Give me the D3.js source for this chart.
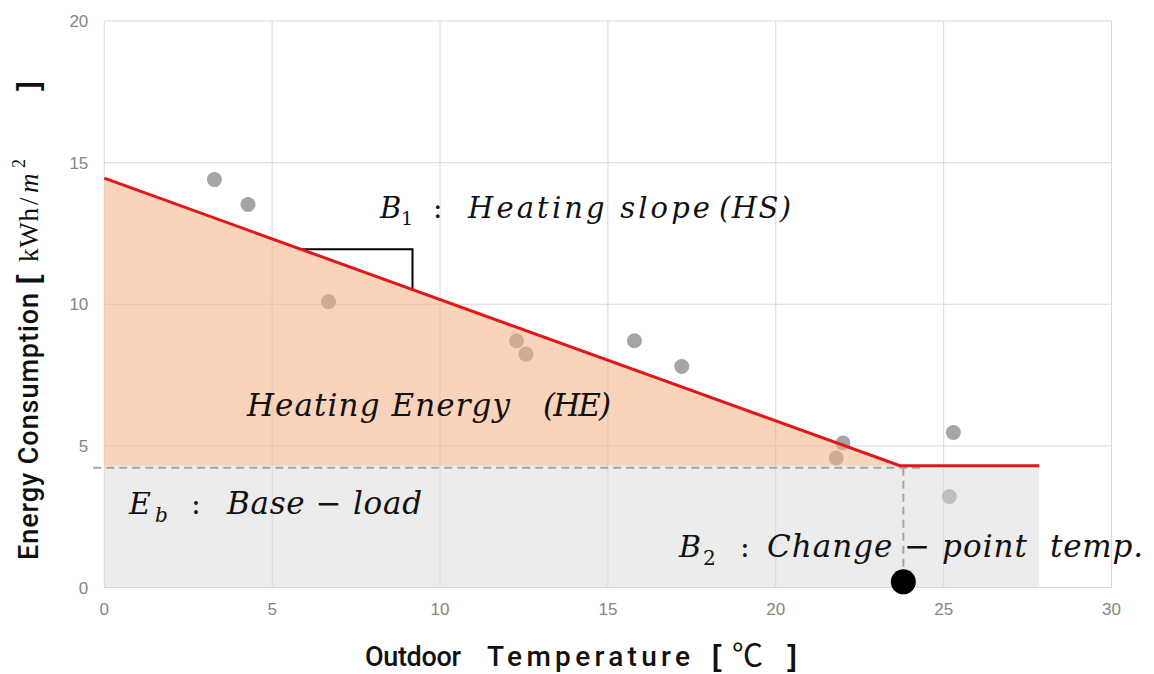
<!DOCTYPE html>
<html>
<head>
<meta charset="utf-8">
<script src="https://cdn.jsdelivr.net/npm/d3@7"></script>
<style>
  body { margin: 0; background: #fff; }
  svg { display: block; }
</style>
</head>
<body>
<svg id="chart" width="1154" height="674"></svg>
<script>
// Observed monthly points: outdoor temperature (°C) and energy use (kWh/m²)
const tempObs   = [3.28, 4.28, 6.68, 12.28, 12.56, 15.79, 17.20, 22.00, 21.80, 25.29, 25.17];
const energyObs = [14.40, 13.52, 10.09, 8.71, 8.24, 8.71, 7.80, 5.10, 4.57, 5.47, 3.21];

// Axis ticks
const xTicks = [0, 5, 10, 15, 20, 25, 30];
const yTicks = [0, 5, 10, 15, 20];

// Change-point model parameters
const energyAtZero = 14.45;   // model energy at 0 °C
const baseLoad     = 4.3;     // E_b
const changePoint  = 23.7;    // B_2
const modelEnd     = 27.85;   // last temperature covered by the model
const slopeMarkFrom = 5.85;   // slope triangle span
const slopeMarkTo   = 9.18;

const svg = d3.select("#chart");
const W = 1154, H = 674;
const m = { left: 104.3, right: 1154 - 1111.5, top: 21, bottom: 674 - 587.5 };

const x = d3.scaleLinear().domain([0, 30]).range([m.left, W - m.right]);
const y = d3.scaleLinear().domain([0, 20]).range([H - m.bottom, m.top]);

const model = t => t <= changePoint
  ? energyAtZero + (baseLoad - energyAtZero) * t / changePoint
  : baseLoad;

// Grid
const grid = svg.append("g").attr("stroke", "#d9d9d9").attr("stroke-width", 1);
grid.selectAll("line.v").data(xTicks).join("line")
  .attr("x1", d => x(d)).attr("x2", d => x(d))
  .attr("y1", y(0)).attr("y2", y(20));
grid.selectAll("line.h").data(yTicks).join("line")
  .attr("x1", x(0)).attr("x2", x(30))
  .attr("y1", d => y(d)).attr("y2", d => y(d));

// Observations (drawn under the translucent regions)
svg.append("g").selectAll("circle").data(tempObs.map((t, i) => [t, energyObs[i]]))
  .join("circle")
  .attr("cx", d => x(d[0])).attr("cy", d => y(d[1]))
  .attr("r", 7.5).attr("fill", "#a5a5a5");

// Heating energy region
svg.append("path")
  .datum([[0, energyAtZero], [changePoint, baseLoad], [0, baseLoad]])
  .attr("d", d3.line().x(d => x(d[0])).y(d => y(d[1])).curve(d3.curveLinearClosed))
  .attr("fill", "#f4b183").attr("fill-opacity", 0.55);

// Base-load region
svg.append("rect")
  .attr("x", x(0)).attr("y", y(baseLoad))
  .attr("width", x(modelEnd) - x(0)).attr("height", y(0) - y(baseLoad))
  .attr("fill", "#d9d9d9").attr("fill-opacity", 0.5);

// Dashed guides
svg.append("line")
  .attr("x1", x(-0.33)).attr("x2", x(24.3))
  .attr("y1", y(baseLoad) + 2).attr("y2", y(baseLoad) + 2)
  .attr("stroke", "#a6a6a6").attr("stroke-width", 2).attr("stroke-dasharray", "8,5");
svg.append("line")
  .attr("x1", x(changePoint + 0.1)).attr("x2", x(changePoint + 0.1))
  .attr("y1", y(baseLoad) + 2).attr("y2", y(0.45))
  .attr("stroke", "#a6a6a6").attr("stroke-width", 2).attr("stroke-dasharray", "8,5");

// Slope triangle
const yMark = model(slopeMarkFrom);
svg.append("path")
  .attr("d", `M${x(slopeMarkFrom)},${y(yMark)}H${x(slopeMarkTo)}V${y(model(slopeMarkTo))}`)
  .attr("fill", "none").attr("stroke", "#000").attr("stroke-width", 2);

// Fitted change-point line
svg.append("path")
  .datum([0, changePoint, modelEnd])
  .attr("d", d3.line().x(d => x(d)).y(d => y(model(d))))
  .attr("fill", "none").attr("stroke", "#e3171b").attr("stroke-width", 3);

// Change-point marker
svg.append("circle")
  .attr("cx", x(changePoint + 0.1)).attr("cy", y(0.2))
  .attr("r", 12.5).attr("fill", "#000");

// Tick labels
svg.append("g").selectAll("text").data(xTicks).join("text")
  .attr("x", d => x(d)).attr("y", y(0) + 27)
  .attr("text-anchor", "middle")
  .attr("font-family", "Liberation Sans, Arial, sans-serif").attr("font-size", 17)
  .attr("fill", "#858585").text(d => d);
svg.append("g").selectAll("text").data(yTicks).join("text")
  .attr("x", x(0) - 16).attr("y", d => y(d) + 6)
  .attr("text-anchor", "end")
  .attr("font-family", "Liberation Sans, Arial, sans-serif").attr("font-size", 17)
  .attr("fill", "#858585").text(d => d);

// Text helper
const mathFont = "DejaVu Serif, serif";
function seg(parent, str, px, py, o = {}) {
  const t = parent.append("text")
    .attr("x", px).attr("y", py)
    .attr("font-family", o.family || mathFont)
    .attr("font-style", o.style || "italic")
    .attr("font-weight", o.weight || "normal")
    .attr("font-size", o.size || 29)
    .attr("fill", "#111")
    .attr("xml:space", "preserve")
    .text(str);
  if (o.len) t.attr("textLength", o.len).attr("lengthAdjust", "spacing");
  return t;
}

const ann = svg.append("g");
// B1 : Heating slope (HS)
seg(ann, "B", 380, 218, { size: 29 });
seg(ann, "1", 401, 225, { size: 19, style: "normal" });
seg(ann, ":", 433, 218, { size: 28, style: "normal" });
seg(ann, "Heating slope", 468, 218, { size: 29, len: 242 });
seg(ann, "(HS)", 719, 218, { size: 29, len: 72 });

// Heating Energy (HE)
seg(ann, "Heating Energy", 247, 416, { size: 31, len: 263 });
seg(ann, "(HE)", 543, 416, { size: 31, len: 68 });

// E_b : Base - load
seg(ann, "E", 129, 514, { size: 30 });
seg(ann, "b", 155, 522, { size: 20 });
seg(ann, ":", 191, 514, { size: 29, style: "normal" });
seg(ann, "Base \u2212 load", 227, 514, { size: 31, len: 195 });

// B2 : Change - point temp.
seg(ann, "B", 679, 557, { size: 30 });
seg(ann, "2", 703, 565, { size: 20, style: "normal" });
seg(ann, ":", 740, 557, { size: 29, style: "normal" });
seg(ann, "Change \u2212 point", 767, 557, { size: 31, len: 260 });
seg(ann, "temp.", 1050, 557, { size: 31, len: 93 });

// X axis title
const xt = svg.append("g");
const sans = "Roboto, Noto Sans, sans-serif";
seg(xt, "Outdoor", 365, 666, { family: sans, style: "normal", weight: 500, size: 27, len: 96 });
seg(xt, "Temperature", 487, 666, { family: sans, style: "normal", weight: 500, size: 28, len: 203 });
seg(xt, "[", 712, 666, { family: "Liberation Sans, sans-serif", style: "normal", weight: "bold", size: 29 });
seg(xt, "\u2103", 732, 666, { family: "Noto Sans CJK JP, serif", style: "normal", size: 31 });
seg(xt, "]", 787, 666, { family: "Liberation Sans, sans-serif", style: "normal", weight: "bold", size: 29 });

// Y axis title (rotated, reading upward)
const yt = svg.append("g").attr("transform", "translate(38,560) rotate(-90)");
seg(yt, "Energy Consumption", 0, 0, { family: sans, style: "normal", weight: 500, size: 27, len: 267 });
seg(yt, "[", 276, 0, { family: "Liberation Sans, sans-serif", style: "normal", weight: "bold", size: 29 });
seg(yt, "kWh", 298, 0, { family: "Liberation Serif, serif", style: "normal", size: 27, len: 54 });
seg(yt, "/", 355, 0, { family: "Liberation Serif, serif", style: "normal", size: 27 });
seg(yt, "m", 367, 0, { family: "Liberation Serif, serif", style: "italic", size: 27 });
seg(yt, "2", 392, -13, { family: "Liberation Serif, serif", style: "normal", size: 18 });
seg(yt, "]", 469, 0, { family: "Liberation Sans, sans-serif", style: "normal", weight: "bold", size: 29 });
</script>
</body>
</html>
